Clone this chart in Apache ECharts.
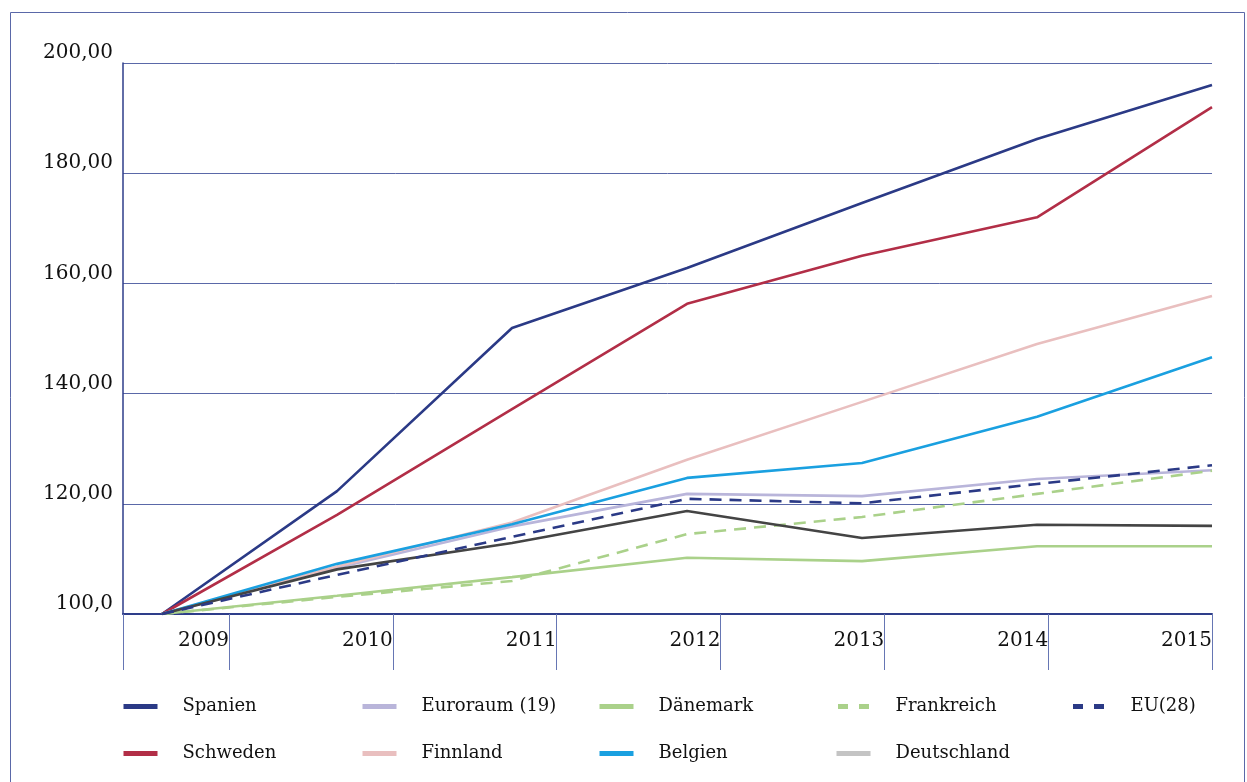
<!DOCTYPE html>
<html><head><meta charset="utf-8">
<script src="https://cdn.jsdelivr.net/npm/echarts@6/dist/echarts.min.js"></script>
<style>html,body{margin:0;padding:0;background:#fff}#c{width:1247px;height:782px}</style>
</head><body><div id="c"></div>
<script>
const years = [2009, 2010, 2011, 2012, 2013, 2014, 2015];
const yTickLabels = {100:'100,0',120:'120,00',140:'140,00',160:'160,00',180:'180,00',200:'200,00'};
const spanien     = [100, 122.3, 151.9, 162.8, 174.6, 186.2, 196.0];
const schweden    = [100, 118.0, 137.2, 156.3, 165.0, 172.0, 192.0];
const euroraum    = [100, 108.4, 115.9, 121.8, 121.4, 124.5, 126.1];
const finnland    = [100, 108.6, 116.6, 128.0, 138.5, 149.0, 157.7];
const daenemark   = [100, 103.3, 106.7, 110.2, 109.6, 112.3, 112.3];
const belgien     = [100, 109.1, 116.3, 124.7, 127.4, 135.8, 146.6];
const frankreich  = [100, 103.1, 106.0, 114.5, 117.6, 121.8, 126.0];
const deutschland = [100, 108.1, 112.9, 118.7, 113.8, 116.2, 116.0];
const eu28        = [100, 107.1, 114.0, 120.9, 120.1, 123.6, 127.0];

const FONT = 'DejaVu Serif';
const pair = arr => arr.map((v, i) => [years[i], v]);
const DASH_ICON = 'path://M0,0H10V5H0Z M21,0H31V5H21Z';

const seriesDefs = [
  {name:'Spanien', data:spanien, color:'#2b3a86'},
  {name:'Schweden', data:schweden, color:'#b22e47'},
  {name:'Euroraum (19)', data:euroraum, color:'#b9b5da'},
  {name:'Finnland', data:finnland, color:'#e9bfbf'},
  {name:'Dänemark', data:daenemark, color:'#aad18a'},
  {name:'Belgien', data:belgien, color:'#1aa0e0'},
  {name:'Frankreich', data:frankreich, color:'#aad18a', dash:[12,8]},
  {name:'Deutschland', data:deutschland, color:'#444444'},
  {name:'EU(28)', data:eu28, color:'#2b3a86', dash:[12,8]}
];

const legendCols = [
  {left:116, items:['Spanien','Schweden']},
  {left:355, items:['Euroraum (19)','Finnland']},
  {left:592, items:['Dänemark','Belgien']},
  {left:829, items:[{name:'Frankreich', icon:DASH_ICON, itemStyle:{color:'#aad18a'}},
                    {name:'Deutschland', itemStyle:{color:'#c4c4c4'}, lineStyle:{color:'#c4c4c4'}}]},
  {left:1068, items:[{name:'EU(28)', icon:DASH_ICON, itemStyle:{color:'#2b3a86'}}]}
];

const chart = echarts.init(document.getElementById('c'));
chart.setOption({
  animation:false,
  backgroundColor:'#fff',
  graphic:[{type:'rect', shape:{x:10.5, y:12.5, width:1234, height:800}, style:{fill:null, stroke:'#5a68a8', lineWidth:1}, z:-1}],
  grid:{left:123, right:35, top:63, bottom:168},
  legend: legendCols.map(c => ({
    orient:'vertical', left:c.left, top:691, data:c.items,
    itemWidth:34, itemHeight:5, itemGap:26,
    lineStyle:{width:5},
    textStyle:{fontFamily:FONT, fontSize:18, color:'#111', padding:[0,0,0,20], lineHeight:21},
    selectedMode:false
  })),
  xAxis:[
    {type:'value', min:2008.777, max:2015, show:false},
    {type:'value', min:2008.353, max:2015, position:'bottom',
     axisLine:{show:true, lineStyle:{color:'#2e3d8a', width:2}},
     axisTick:{show:true, length:56, customValues:[2008.353].concat(years), lineStyle:{color:'#6676b4', width:1}},
     splitLine:{show:false},
     axisLabel:{customValues:years, formatter:v => String(Math.round(v)), align:'right', margin:17,
                fontFamily:FONT, fontSize:20, color:'#111'}}
  ],
  yAxis:{type:'value', min:100, max:200, interval:20,
    axisLine:{show:true, lineStyle:{color:'#2e3d8a', width:1.5}},
    axisTick:{show:false},
    splitLine:{lineStyle:{color:'#5a68a8', width:1}},
    axisLabel:{formatter:v => yTickLabels[v] || '', margin:10, verticalAlign:'bottom', lineHeight:20,
               fontFamily:FONT, fontSize:20, color:'#111'}},
  series: seriesDefs.map(s => ({
    name:s.name, type:'line', xAxisIndex:0, data:pair(s.data), symbol:'none',
    color:s.color, itemStyle:{color:s.color},
    lineStyle:{color:s.color, width:2.6, type:s.dash || 'solid'}
  }))
});
</script></body></html>
